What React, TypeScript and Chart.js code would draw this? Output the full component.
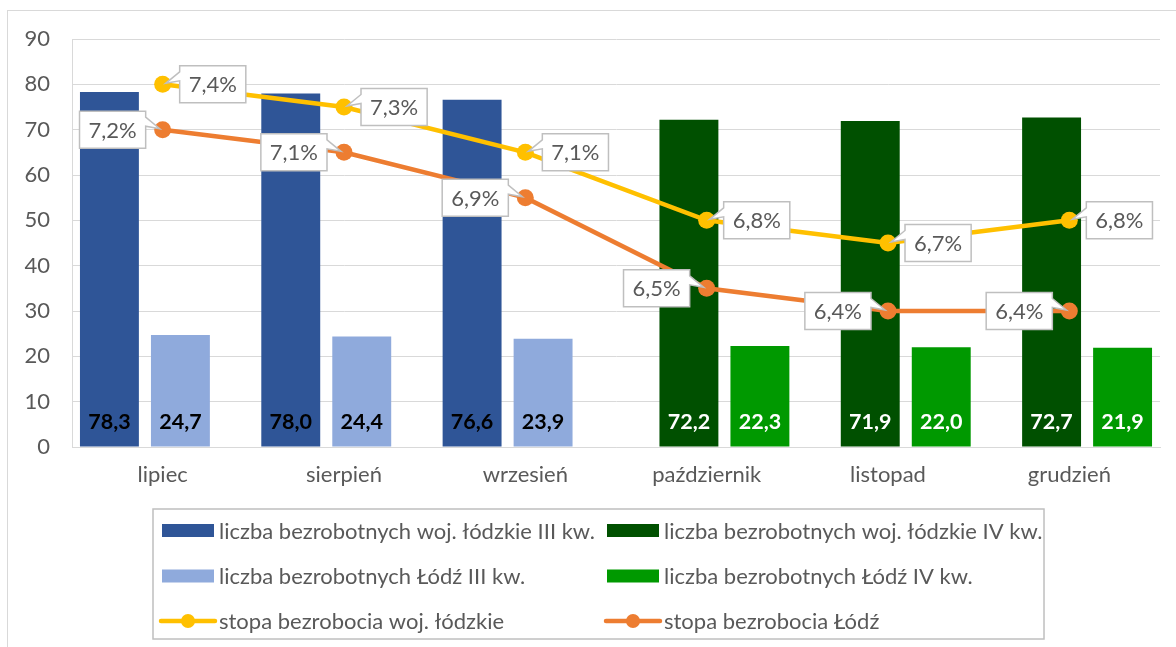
import React, { useEffect, useRef } from 'react';
import { Chart, registerables } from 'chart.js';

Chart.register(...registerables);

// ---------- data ----------
const categories = ['lipiec', 'sierpień', 'wrzesień', 'październik', 'listopad', 'grudzień'];
const wojIII: (number | null)[] = [78.3, 78.0, 76.6, null, null, null];
const wojIV: (number | null)[] = [null, null, null, 72.2, 71.9, 72.7];
const lodzIII: (number | null)[] = [24.7, 24.4, 23.9, null, null, null];
const lodzIV: (number | null)[] = [null, null, null, 22.3, 22.0, 21.9];
const stopaWoj = [7.4, 7.3, 7.1, 6.8, 6.7, 6.8];
const stopaLodz = [7.2, 7.1, 6.9, 6.5, 6.4, 6.4];
const countAxisMin = 0;
const countAxisMax = 90;
const countAxisStep = 10;
const rateAxisMin = 5.8;
const rateAxisMax = 7.6;

const seriesNames = [
  'liczba bezrobotnych woj. łódzkie III kw.',
  'liczba bezrobotnych woj. łódzkie IV kw.',
  'liczba bezrobotnych Łódź III kw.',
  'liczba bezrobotnych Łódź IV kw.',
  'stopa bezrobocia woj. łódzkie',
  'stopa bezrobocia Łódź',
];

// ---------- styles ----------
const FONT = 'Lato, "Open Sans", sans-serif';
const TEXT = '#595959';
const GRID = '#d9d9d9';
const C_WOJ3 = '#2f5597';
const C_WOJ4 = '#005000';
const C_LODZ3 = '#8faadc';
const C_LODZ4 = '#009900';
const C_YEL = '#ffc000';
const C_ORA = '#ed7d31';

const fmt = (v: number) => v.toFixed(1).replace('.', ',');

const barLabelPlugin = {
  id: 'barLabels',
  afterDatasetsDraw(chart: any) {
    const ctx = chart.ctx;
    const base = chart.chartArea.bottom;
    ctx.save();
    ctx.font = `bold 21.5px ${FONT}`;
    ctx.textAlign = 'center';
    ctx.textBaseline = 'middle';
    chart.data.datasets.forEach((ds: any, i: number) => {
      if (ds.type === 'line') return;
      const meta = chart.getDatasetMeta(i);
      meta.data.forEach((el: any, j: number) => {
        const v = ds.data[j];
        if (v === null || v === undefined) return;
        ctx.fillStyle = ds.valueColor;
        ctx.fillText(fmt(v), el.x, base - 25);
      });
    });
    ctx.restore();
  },
};

const calloutPlugin = {
  id: 'callouts',
  afterDatasetsDraw(chart: any) {
    const ctx = chart.ctx;
    ctx.save();
    ctx.font = `22px ${FONT}`;
    chart.data.datasets.forEach((ds: any, i: number) => {
      if (ds.type !== 'line') return;
      const meta = chart.getDatasetMeta(i);
      const side = ds.calloutSide;
      meta.data.forEach((el: any, j: number) => {
        const v = ds.data[j];
        const text = fmt(v) + '%';
        const tw = ctx.measureText(text).width;
        const w = tw + 18;
        const h = 37;
        const gap = 17;
        const L = side === 'right' ? el.x + gap : el.x - gap - w;
        const R = L + w;
        const T = el.y - h / 2;
        const B = T + h;
        ctx.beginPath();
        if (side === 'right') {
          ctx.moveTo(L, T);
          ctx.lineTo(R, T);
          ctx.lineTo(R, B);
          ctx.lineTo(L, B);
          ctx.lineTo(L, T + 15);
          ctx.lineTo(el.x + 3, el.y - 1);
          ctx.lineTo(L, T + 6);
        } else {
          ctx.moveTo(L, T);
          ctx.lineTo(R, T);
          ctx.lineTo(R, T + 6);
          ctx.lineTo(el.x - 3, el.y - 1);
          ctx.lineTo(R, T + 15);
          ctx.lineTo(R, B);
          ctx.lineTo(L, B);
        }
        ctx.closePath();
        ctx.fillStyle = '#ffffff';
        ctx.fill();
        ctx.strokeStyle = '#bfbfbf';
        ctx.lineWidth = 1.5;
        ctx.stroke();
        ctx.fillStyle = TEXT;
        ctx.textAlign = 'center';
        ctx.textBaseline = 'middle';
        ctx.fillText(text, (L + R) / 2, el.y + 1);
      });
    });
    ctx.restore();
  },
};

const legendPlugin = {
  id: 'customLegend',
  afterDraw(chart: any) {
    const ctx = chart.ctx;
    const items = [
      { name: seriesNames[0], color: C_WOJ3, kind: 'bar' },
      { name: seriesNames[1], color: C_WOJ4, kind: 'bar' },
      { name: seriesNames[2], color: C_LODZ3, kind: 'bar' },
      { name: seriesNames[3], color: C_LODZ4, kind: 'bar' },
      { name: seriesNames[4], color: C_YEL, kind: 'line' },
      { name: seriesNames[5], color: C_ORA, kind: 'line' },
    ];
    const boxL = 153, boxT = 509, boxR = 1044, boxB = 639;
    const colX = [161, 606];
    const rowY = [530.5, 576, 621];
    ctx.save();
    ctx.strokeStyle = '#bfbfbf';
    ctx.lineWidth = 1.5;
    ctx.strokeRect(boxL, boxT, boxR - boxL, boxB - boxT);
    ctx.font = `22px ${FONT}`;
    ctx.textBaseline = 'middle';
    ctx.textAlign = 'left';
    items.forEach((it, k) => {
      const x = colX[k % 2];
      const y = rowY[Math.floor(k / 2)];
      if (it.kind === 'bar') {
        ctx.fillStyle = it.color;
        ctx.fillRect(x + 1, y - 6.5, 52, 13);
      } else {
        ctx.strokeStyle = it.color;
        ctx.lineWidth = 4.5;
        ctx.lineCap = 'round';
        ctx.beginPath();
        ctx.moveTo(x, y);
        ctx.lineTo(x + 54, y);
        ctx.stroke();
        ctx.fillStyle = it.color;
        ctx.beginPath();
        ctx.arc(x + 27, y, 7, 0, Math.PI * 2);
        ctx.fill();
      }
      ctx.fillStyle = TEXT;
      ctx.fillText(it.name, x + 58, y + 1);
    });
    ctx.restore();
  },
};

export default function App() {
  const ref = useRef<HTMLCanvasElement | null>(null);

  useEffect(() => {
    if (!ref.current) return;
    const barCommon = {
      type: 'bar' as const,
      yAxisID: 'y',
      order: 1,
      categoryPercentage: 0.783,
      barPercentage: 1.66,
    };
    const lineCommon = {
      type: 'line' as const,
      yAxisID: 'y1',
      order: 0,
      borderWidth: 4.5,
      pointRadius: 8.5,
      pointBorderWidth: 0,
      tension: 0,
    };
    const chart = new Chart(ref.current, {
      type: 'bar',
      data: {
        labels: categories,
        datasets: [
          { ...barCommon, label: seriesNames[0], data: wojIII, backgroundColor: C_WOJ3, valueColor: '#000000' } as any,
          { ...barCommon, label: seriesNames[1], data: wojIV, backgroundColor: C_WOJ4, valueColor: '#ffffff' } as any,
          { ...barCommon, label: seriesNames[2], data: lodzIII, backgroundColor: C_LODZ3, valueColor: '#000000' } as any,
          { ...barCommon, label: seriesNames[3], data: lodzIV, backgroundColor: C_LODZ4, valueColor: '#ffffff' } as any,
          { ...lineCommon, label: seriesNames[4], data: stopaWoj, borderColor: C_YEL, backgroundColor: C_YEL, pointBackgroundColor: C_YEL, calloutSide: 'right' } as any,
          { ...lineCommon, label: seriesNames[5], data: stopaLodz, borderColor: C_ORA, backgroundColor: C_ORA, pointBackgroundColor: C_ORA, calloutSide: 'left' } as any,
        ],
      },
      options: {
        responsive: false,
        animation: false,
        events: [],
        layout: { padding: { left: 0, right: 16, top: 39, bottom: 140 } },
        plugins: {
          legend: { display: false },
          tooltip: { enabled: false },
        },
        scales: {
          x: {
            grid: { display: false, drawTicks: false },
            border: { display: true, color: GRID, width: 1 },
            ticks: { color: TEXT, font: { family: FONT, size: 22 }, padding: 15 },
            afterFit: (axis: any) => { axis.height = 60; },
          },
          y: {
            position: 'left',
            min: countAxisMin,
            max: countAxisMax,
            grid: { color: GRID, lineWidth: 1, drawTicks: false },
            border: { display: true, color: GRID, width: 1 },
            ticks: { stepSize: countAxisStep, color: TEXT, font: { family: FONT, size: 22 }, padding: 22 },
            afterFit: (axis: any) => { axis.width = 72; },
          },
          y1: {
            display: false,
            min: rateAxisMin,
            max: rateAxisMax,
          },
        },
      },
      plugins: [barLabelPlugin, calloutPlugin, legendPlugin],
    });
    return () => chart.destroy();
  }, []);

  return (
    <div style={{ position: 'fixed', left: 0, top: 0, width: 1176, height: 647, overflow: 'hidden', background: '#ffffff' }}>
      <div style={{ position: 'absolute', left: 7, top: 10, width: 1300, height: 800, border: '1px solid #d9d9d9' }} />
      <canvas ref={ref} width={1176} height={647} style={{ position: 'absolute', left: 0, top: 0, width: 1176, height: 647 }} />
    </div>
  );
}
